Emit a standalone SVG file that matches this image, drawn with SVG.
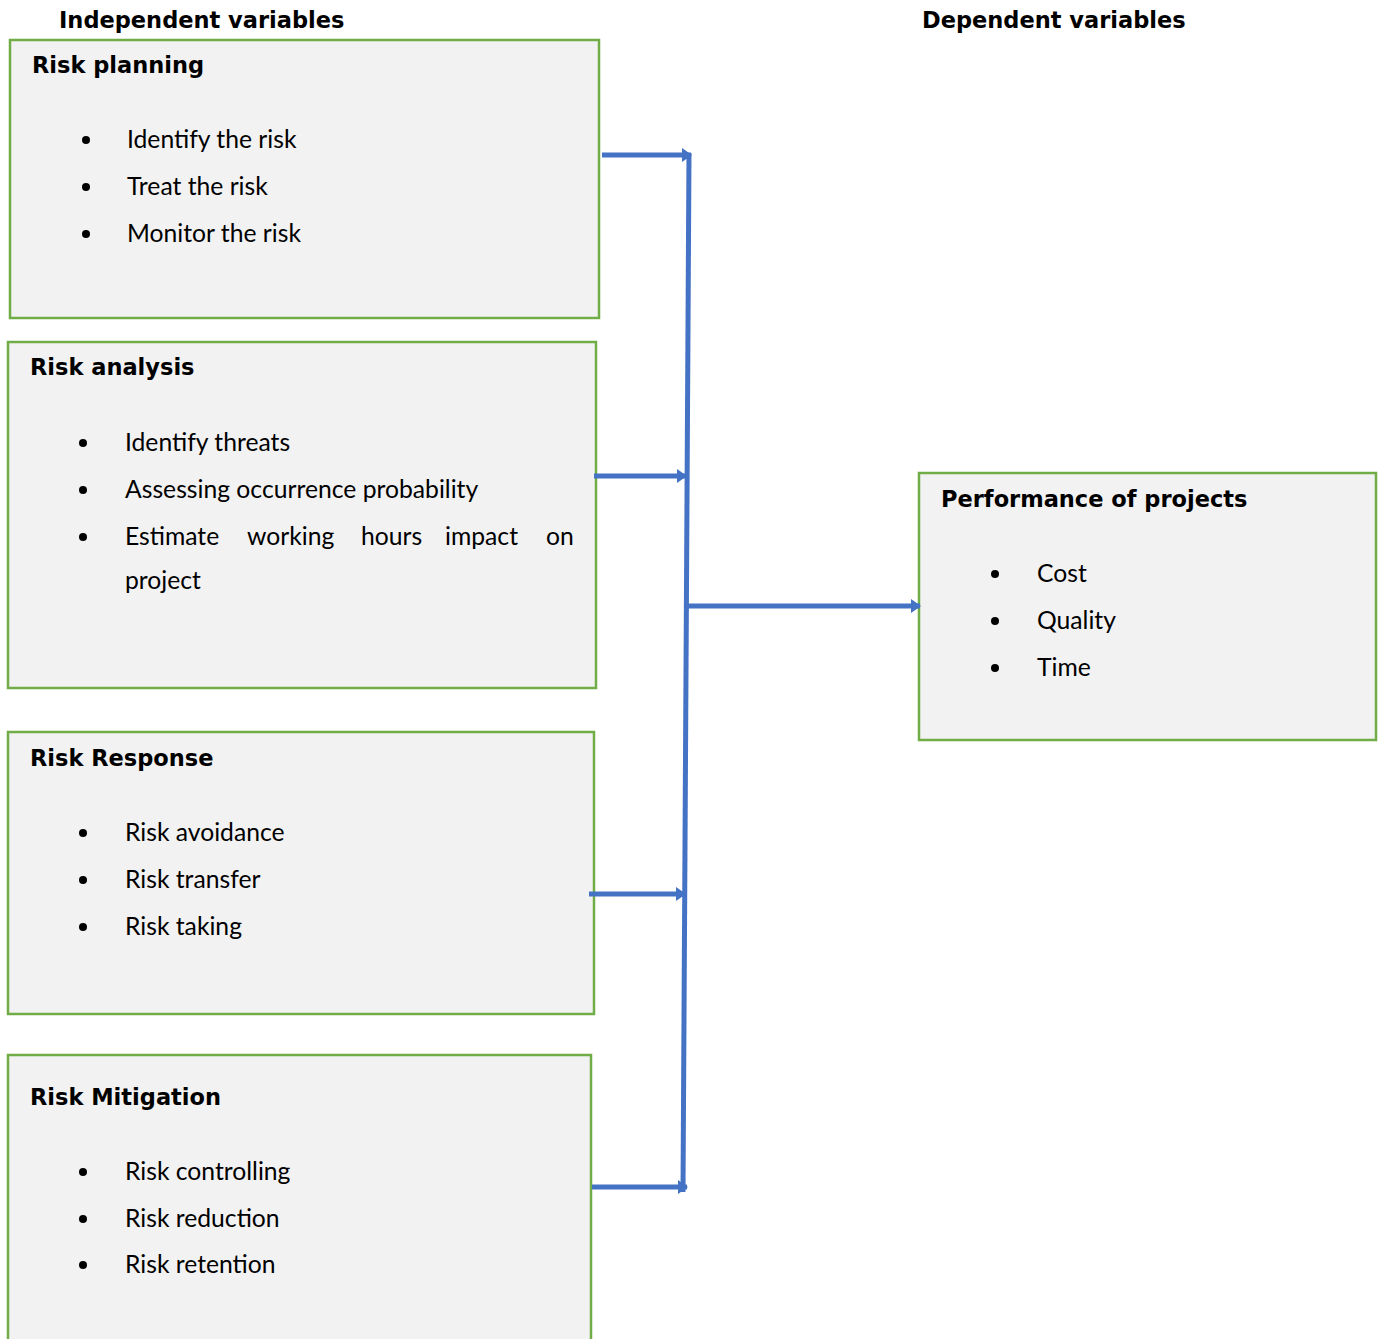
<svg xmlns="http://www.w3.org/2000/svg" width="1382" height="1339" viewBox="0 0 1382 1339">
<defs>
<style>
.box{fill:#f2f2f2;stroke:#70ad47;stroke-width:2.5}
.hd{font-family:"DejaVu Sans",Lato,sans-serif;font-weight:bold;font-size:22.5px;fill:#000}
.tx{font-family:Lato,"Liberation Sans",sans-serif;font-size:24.7px;fill:#000}
.bul{fill:#000}
.ln{stroke:#4472c4;stroke-width:5;fill:none}
</style>
<marker id="ah" viewBox="0 0 10 14" refX="9" refY="7" markerWidth="10" markerHeight="14" markerUnits="userSpaceOnUse" orient="auto">
<path d="M0,0 L10,7 L0,14 z" fill="#4472c4"/>
</marker>
</defs>
<rect width="1382" height="1339" fill="#fff"/>
<text class="hd" x="59" y="28">Independent variables</text>
<text class="hd" x="922" y="28">Dependent variables</text>

<g id="risk-planning">
<rect class="box" x="10" y="40" width="589" height="278"/>
<text class="hd" x="32" y="73">Risk planning</text>
<circle class="bul" cx="86" cy="140" r="4"/><text class="tx" x="127" y="148">Identify the risk</text>
<circle class="bul" cx="86" cy="187" r="4"/><text class="tx" x="127" y="195">Treat the risk</text>
<circle class="bul" cx="86" cy="234" r="4"/><text class="tx" x="127" y="242">Monitor the risk</text>
</g>

<g id="risk-analysis">
<rect class="box" x="8" y="342" width="588" height="346"/>
<text class="hd" x="30" y="375">Risk analysis</text>
<circle class="bul" cx="83" cy="443" r="4"/><text class="tx" x="125" y="451">Identify threats</text>
<circle class="bul" cx="83" cy="490" r="4"/><text class="tx" x="125" y="498">Assessing occurrence probability</text>
<circle class="bul" cx="83" cy="537" r="4"/>
<text class="tx" y="545"><tspan x="125">Estimate</tspan><tspan x="247">working</tspan><tspan x="361">hours</tspan><tspan x="445">impact</tspan><tspan x="546">on</tspan></text>
<text class="tx" x="125" y="589">project</text>
</g>

<g id="risk-response">
<rect class="box" x="8" y="732" width="586" height="282"/>
<text class="hd" x="30" y="766">Risk Response</text>
<circle class="bul" cx="83" cy="833" r="4"/><text class="tx" x="125" y="841">Risk avoidance</text>
<circle class="bul" cx="83" cy="880" r="4"/><text class="tx" x="125" y="888">Risk transfer</text>
<circle class="bul" cx="83" cy="927" r="4"/><text class="tx" x="125" y="935">Risk taking</text>
</g>

<g id="risk-mitigation">
<rect class="box" x="8" y="1055" width="583" height="300"/>
<text class="hd" x="30" y="1105">Risk Mitigation</text>
<circle class="bul" cx="83" cy="1172" r="4"/><text class="tx" x="125" y="1180">Risk controlling</text>
<circle class="bul" cx="83" cy="1219" r="4"/><text class="tx" x="125" y="1227">Risk reduction</text>
<circle class="bul" cx="83" cy="1265" r="4"/><text class="tx" x="125" y="1273">Risk retention</text>
</g>

<g id="performance">
<rect class="box" x="919" y="473" width="457" height="267"/>
<text class="hd" x="941" y="507">Performance of projects</text>
<circle class="bul" cx="995" cy="574" r="4"/><text class="tx" x="1037" y="582">Cost</text>
<circle class="bul" cx="995" cy="621" r="4"/><text class="tx" x="1037" y="629">Quality</text>
<circle class="bul" cx="995" cy="668" r="4"/><text class="tx" x="1037" y="676">Time</text>
</g>

<g id="connectors">
<line class="ln" x1="689" y1="153" x2="683" y2="1192" stroke-width="4"/>
<line class="ln" x1="602" y1="155" x2="691" y2="155" marker-end="url(#ah)"/>
<line class="ln" x1="594" y1="476" x2="686" y2="476" marker-end="url(#ah)"/>
<line class="ln" x1="589" y1="894" x2="685" y2="894" marker-end="url(#ah)"/>
<line class="ln" x1="592" y1="1187" x2="687" y2="1187" stroke-width="7" marker-end="url(#ah)"/>
<line class="ln" x1="688" y1="606" x2="920" y2="606" stroke-width="7" marker-end="url(#ah)"/>
</g>
</svg>
